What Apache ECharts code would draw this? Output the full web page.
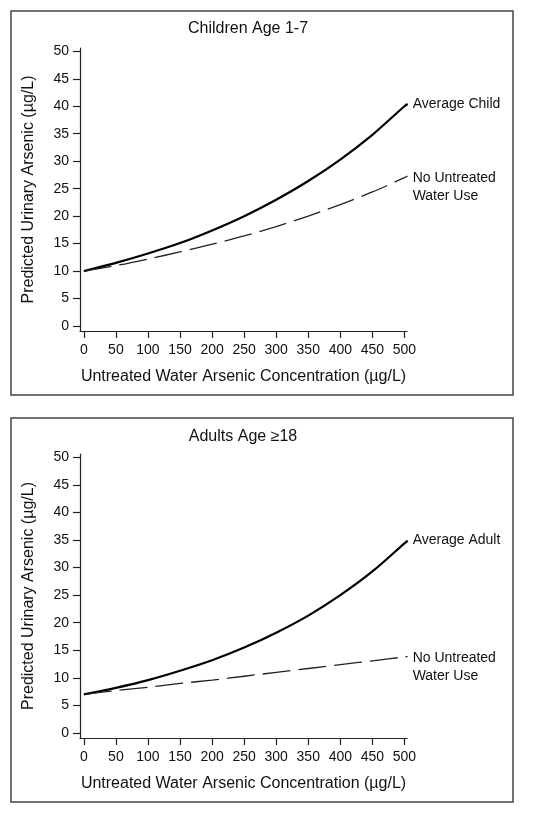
<!DOCTYPE html>
<html>
<head>
<meta charset="utf-8">
<script src="https://cdn.jsdelivr.net/npm/echarts@6/dist/echarts.min.js"></script>
<style>
html,body{margin:0;padding:0;background:#fff;}
#c{width:534px;height:813px;}
</style>
</head>
<body>
<div id="c"></div>
<script>
// ---- data ----
const xValues = [0, 50, 100, 150, 200, 250, 300, 350, 400, 450, 500, 505];
const childAverage = [10.0, 11.5, 13.2, 15.1, 17.4, 20.0, 23.0, 26.4, 30.3, 34.8, 40.0, 40.4];
const childNoUntreated = [10.0, 11.0, 12.2, 13.5, 14.9, 16.4, 18.1, 20.0, 22.1, 24.4, 27.0, 27.3];
const adultAverage = [7.0, 8.2, 9.6, 11.3, 13.2, 15.5, 18.2, 21.3, 25.0, 29.3, 34.4, 34.9];
const adultNoUntreated = [7.0, 7.7, 8.3, 9.0, 9.6, 10.3, 11.0, 11.7, 12.4, 13.1, 13.8, 13.9];
const xTicks = [0, 50, 100, 150, 200, 250, 300, 350, 400, 450, 500];
const yTicks = [0, 5, 10, 15, 20, 25, 30, 35, 40, 45, 50];
const panelTitles = ['Children Age 1-7', 'Adults Age \u226518'];
const seriesNames = [['Average Child', 'No Untreated\nWater Use'], ['Average Adult', 'No Untreated\nWater Use']];
const xAxisTitle = 'Untreated Water Arsenic Concentration (\u00b5g/L)';
const yAxisTitle = 'Predicted Urinary Arsenic (\u00b5g/L)';

const FONT = '"Liberation Sans", Arial, sans-serif';
const pair = (ys) => xValues.map((x, i) => [x, ys[i]]);

const chart = echarts.init(document.getElementById('c'), null, {renderer: 'canvas'});

const grids = [
  {left: 80, top: 48, width: 327, height: 283},
  {left: 80, top: 454, width: 327, height: 284}
];

function xAxisOf(i) {
  return {
    type: 'value', gridIndex: i, min: -6, max: 504,
    name: xAxisTitle, nameLocation: 'middle', nameGap: 38,
    nameTextStyle: {fontFamily: FONT, fontSize: 16, color: '#111'},
    axisLine: {show: true, onZero: false, lineStyle: {color: '#222', width: 1.2}},
    axisTick: {show: true, length: 7, customValues: xTicks, lineStyle: {color: '#222', width: 1.2}},
    axisLabel: {customValues: xTicks, margin: 12, fontFamily: FONT, fontSize: 14, color: '#111'},
    splitLine: {show: false}
  };
}
function yAxisOf(i) {
  return {
    type: 'value', gridIndex: i, min: -0.9, max: 50.6,
    name: yAxisTitle, nameLocation: 'middle', nameGap: 43, nameRotate: 90,
    nameTextStyle: {fontFamily: FONT, fontSize: 16, color: '#111'},
    axisLine: {show: true, onZero: false, lineStyle: {color: '#222', width: 1.2}},
    axisTick: {show: true, length: 7, customValues: yTicks, lineStyle: {color: '#222', width: 1.2}},
    axisLabel: {customValues: yTicks, margin: 11, fontFamily: FONT, fontSize: 14, color: '#111'},
    splitLine: {show: false}
  };
}

function solid(i, name, ys) {
  return {
    type: 'line', xAxisIndex: i, yAxisIndex: i, name: name, data: pair(ys),
    smooth: 0.3, showSymbol: false, symbol: 'none', clip: false,
    lineStyle: {color: '#000', width: 2.2},
    endLabel: {show: true, formatter: name, distance: 5, fontFamily: FONT, fontSize: 14, color: '#111'},
    silent: true, animation: false
  };
}
function dashed(i, name, ys, dy) {
  return {
    type: 'line', xAxisIndex: i, yAxisIndex: i, name: name, data: pair(ys),
    smooth: 0.3, showSymbol: false, symbol: 'none', clip: false,
    lineStyle: {color: '#222', width: 1.3, type: [28, 8]},
    endLabel: {show: true, formatter: name, distance: 5, offset: [0, dy], lineHeight: 17.5, fontFamily: FONT, fontSize: 14, color: '#111'},
    silent: true, animation: false
  };
}

chart.setOption({
  backgroundColor: '#fff',
  animation: false,
  grid: grids,
  xAxis: [xAxisOf(0), xAxisOf(1)],
  yAxis: [yAxisOf(0), yAxisOf(1)],
  series: [
    solid(0, seriesNames[0][0], childAverage),
    dashed(0, seriesNames[0][1], childNoUntreated, 11),
    solid(1, seriesNames[1][0], adultAverage),
    dashed(1, seriesNames[1][1], adultNoUntreated, 11)
  ],
  graphic: [
    {type: 'rect', shape: {x: 11, y: 11, width: 502, height: 384}, style: {fill: 'none', stroke: '#444', lineWidth: 1.5}, silent: true},
    {type: 'rect', shape: {x: 11, y: 418, width: 502, height: 384}, style: {fill: 'none', stroke: '#444', lineWidth: 1.5}, silent: true},
    {type: 'text', x: 248, y: 29, style: {text: panelTitles[0], font: '16px ' + FONT, fill: '#111', align: 'center', verticalAlign: 'middle'}, silent: true},
    {type: 'text', x: 243, y: 437, style: {text: panelTitles[1], font: '16px ' + FONT, fill: '#111', align: 'center', verticalAlign: 'middle'}, silent: true}
  ]
});
</script>
</body>
</html>
